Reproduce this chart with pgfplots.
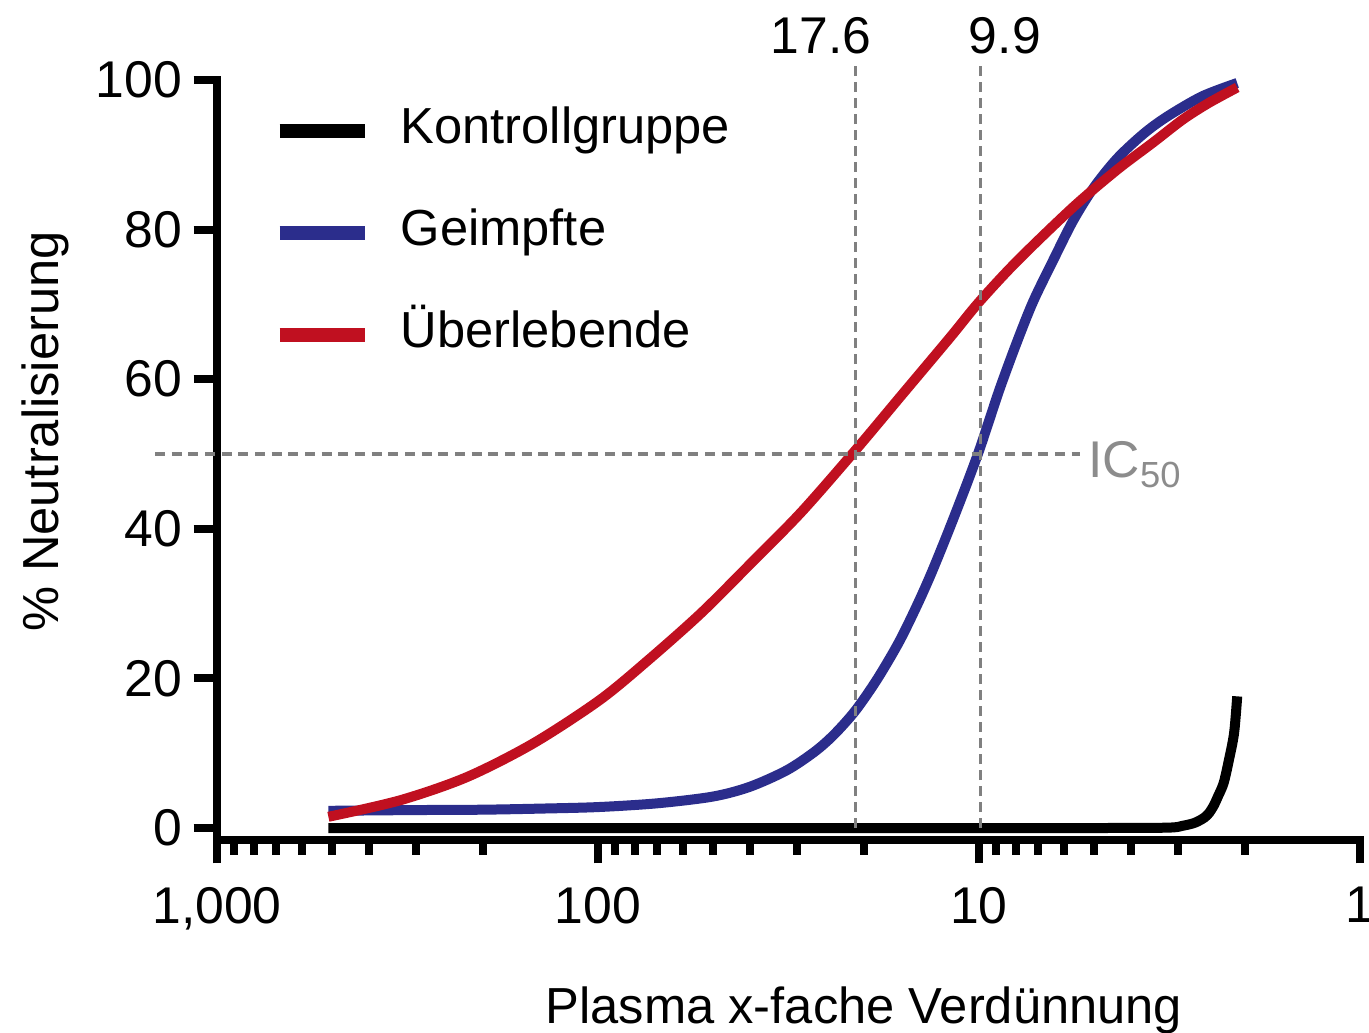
\documentclass[border=0pt]{standalone}
\usepackage{fontspec}
\setmainfont{Liberation Sans}
\usepackage{pgfplots}
\pgfplotsset{compat=1.18}
\definecolor{cblue}{RGB}{43,45,140}
\definecolor{cred}{RGB}{192,16,32}
\definecolor{dgray}{RGB}{128,128,128}
\definecolor{tgray}{RGB}{140,140,140}
\begin{document}
\begin{tikzpicture}
\useasboundingbox (-65.1pt,-57.9pt) rectangle (345.6pt,252pt);
\begin{axis}[
  at={(0pt,0pt)}, anchor=south west,
  scale only axis, width=342.9pt, height=228pt,
  xmode=log, x dir=reverse,
  xmin=1, xmax=1000, ymin=-1.6, ymax=100,
  axis lines*=left,
  axis line style={line width=2.4pt, line cap=rect},
  clip=false,
  xtick={1,10,100,1000},
  xticklabels={1,10,100,{1,000}},
  minor xtick={2,3,4,5,6,7,8,9,20,30,40,50,60,70,80,90,200,300,400,500,600,700,800,900},
  ytick={0,20,40,60,80,100},
  yticklabels={0,20,40,60,80,100},
  tick align=outside,
  major tick length=7pt, minor tick length=4.5pt,
  tick style={line width=2.4pt, black},
  ticklabel style={font=\fontsize{15.5}{18}\selectfont},
  xticklabel style={yshift=-3.6pt},
  xlabel={Plasma x-fache Verdünnung},
  ylabel={\% Neutralisierung},
  label style={font=\fontsize{15.2}{18}\selectfont},
  xlabel style={at={(axis description cs:0.566,-0.2415)}, anchor=base},
  ylabel style={at={(axis description cs:-0.1505,0.538)}, anchor=center},
  legend style={at={(axis description cs:0.0481,0.9654)}, anchor=north west,
    draw=none, fill=none, inner sep=0pt, row sep=16.6pt, column sep=8.7pt,
    font=\fontsize{15.2}{18}\selectfont,
    nodes={inner sep=0pt, text height=11pt, text depth=3pt}},
  legend cell align=left,
  legend image code/.code={\draw[#1, line width=4.2pt] (0pt,-0.3pt) -- (25.5pt,-0.3pt);},
]
\addplot[black, line width=3pt, smooth] coordinates {
(510,0) (100,0) (20,0) (5,0) (3.2,0.05) (2.92,0.3) (2.75,0.6) (2.66,0.9)
(2.56,1.4) (2.49,2.0) (2.42,3.0) (2.36,4.2) (2.28,6.0) (2.21,9.0) (2.14,12.7) (2.1,17.6)};
\addlegendentry{Kontrollgruppe}
\addplot[cblue, line width=3pt, smooth] coordinates {
(510,2.3) (300,2.4) (200,2.45) (140,2.6) (100,2.8) (70,3.3) (50,4.2) (40,5.5)
(32,7.7) (27,10.2) (24,12.5) (21.1,15.7) (18.5,19.9) (16.2,24.9) (14.5,29.9)
(13.3,34.2) (12,39.8) (10.8,45.8) (10,50.4) (9.4,54.5) (8.81,58.8) (8,64.6)
(7.22,70.3) (6.4,75.8) (5.66,81.2) (5,85.6) (4.34,89.5) (3.7,92.8) (3.21,95.1)
(2.6,97.8) (2.1,99.6)};
\addlegendentry{Geimpfte}
\addplot[cred, line width=3pt, smooth] coordinates {
(510,1.5) (331,3.7) (221,6.8) (148,11.3) (99,17.1) (73.6,22.5) (53.7,28.7)
(40,35.2) (29.3,42.2) (21.1,50.5) (16,57.8) (11.9,65.6) (10,70.3) (7.94,75.8)
(5.66,83) (4.34,88) (3.5,91.6) (2.92,94.7) (2.5,96.9) (2.1,99)};
\addlegendentry{Überlebende}
\addplot[dgray, line width=1pt, dash pattern=on 3pt off 1.8pt, forget plot] coordinates {(21.1,0) (21.1,102.4)};
\addplot[dgray, line width=1pt, dash pattern=on 3pt off 1.8pt, forget plot] coordinates {(9.9,0) (9.9,102.4)};
\addplot[dgray, line width=1pt, dash pattern=on 3pt off 2pt, forget plot] coordinates {(1454,50) (5.43,50)};
\node[anchor=base, inner sep=0pt, font=\fontsize{15.5}{18}\selectfont] at (axis cs:26.0,103.6) {17.6};
\node[anchor=base, inner sep=0pt, font=\fontsize{15.5}{18}\selectfont] at (axis cs:8.55,103.6) {9.9};
\node[anchor=base west, inner sep=0pt, text=tgray, font=\fontsize{15.5}{18}\selectfont] at (axis cs:5.18,46.8) {IC{\fontsize{10.9}{12}\selectfont\raisebox{-3pt}{50}}};
\end{axis}
\end{tikzpicture}
\end{document}
